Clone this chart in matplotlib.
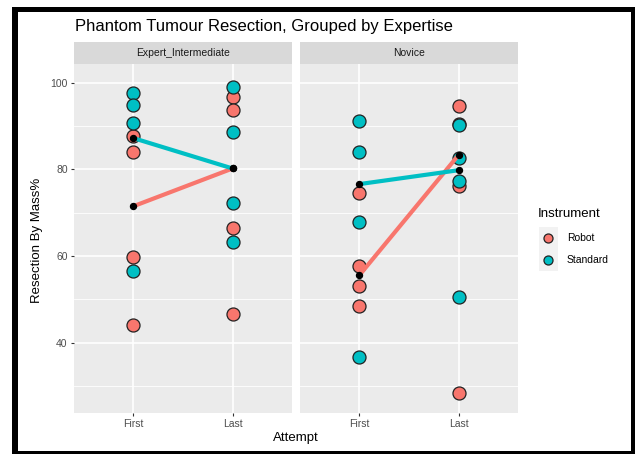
import matplotlib
matplotlib.use("Agg")
import matplotlib.pyplot as plt
from matplotlib.patches import Rectangle
from matplotlib.lines import Line2D

plt.rcParams['font.family'] = ['Liberation Sans', 'DejaVu Sans']

facets = ["Expert_Intermediate", "Novice"]
attempts = ["First", "Last"]
instruments = ["Robot", "Standard"]
colors = {"Robot": "#F8766D", "Standard": "#00BFC4"}

# Individual observations: values[facet][instrument][attempt]
values = {
    "Expert_Intermediate": {
        "Robot": {"First": [87.8, 84.1, 59.7, 44.2], "Last": [96.8, 93.8, 66.4, 46.6]},
        "Standard": {"First": [97.6, 94.9, 90.7, 56.6], "Last": [99.0, 88.5, 72.2, 63.3]},
    },
    "Novice": {
        "Robot": {"First": [74.5, 57.8, 53.2, 48.5], "Last": [94.5, 90.5, 76.1, 28.5]},
        "Standard": {"First": [91.1, 84.1, 67.9, 36.8], "Last": [90.2, 82.6, 77.2, 50.6]},
    },
}
# Summary (median) values shown as black dots joined by lines
summary = {
    "Expert_Intermediate": {"Robot": [71.5, 80.2], "Standard": [87.2, 80.2]},
    "Novice": {"Robot": [55.6, 83.3], "Standard": [76.6, 79.8]},
}

W, H = 635, 454
fig = plt.figure(figsize=(W / 100, H / 100), dpi=100)

def fr(x0, y0, x1, y1):
    return [x0 / W, 1 - y1 / H, (x1 - x0) / W, (y1 - y0) / H]

panel_x = [(74, 292), (300, 518)]
ptop, pbot = 64, 413
stop = 42

ylo, yhi = 23.8, 104.3
axes = []
for i, facet in enumerate(facets):
    x0, x1 = panel_x[i]
    ax = fig.add_axes(fr(x0, ptop, x1, pbot))
    ax.set_facecolor("#EBEBEB")
    for s in ax.spines.values():
        s.set_visible(False)
    ax.set_xlim(0.4, 2.6)
    ax.set_ylim(ylo, yhi)
    for y in [30, 50, 70, 90]:
        ax.axhline(y, color="white", lw=0.6, zorder=0)
    for y in [40, 60, 80, 100]:
        ax.axhline(y, color="white", lw=1.2, zorder=0)
    for x in [1, 2]:
        ax.axvline(x, color="white", lw=1.2, zorder=0)
    ax.set_xticks([1, 2])
    ax.set_xticklabels(attempts)
    ax.set_yticks([40, 60, 80, 100])
    ax.tick_params(axis="both", colors="#333333", labelcolor="#4D4D4D", labelsize=7.5,
                   length=2.5, width=0.8, pad=2)
    if i == 0:
        ax.set_yticklabels(["40", "60", "80", "100"])
    else:
        ax.tick_params(axis="y", left=False, labelleft=False)
    for inst in instruments:
        for j, att in enumerate(attempts):
            ys = values[facet][inst][att]
            ax.scatter([j + 1] * len(ys), ys, s=88, facecolor=colors[inst],
                       edgecolor="#222222", linewidths=0.9, zorder=3)
    for inst in instruments:
        ax.plot([1, 2], summary[facet][inst], color=colors[inst], lw=3.0,
                solid_capstyle="butt", zorder=4)
        ax.plot([1, 2], summary[facet][inst], "o", color="black", ms=4.3, zorder=5)
    # strip
    sax = fig.add_axes(fr(x0, stop, x1, ptop))
    sax.set_facecolor("#D9D9D9")
    sax.set_xticks([]); sax.set_yticks([])
    for s in sax.spines.values():
        s.set_visible(False)
    sax.text(0.5, 0.5, facet, ha="center", va="center", fontsize=7.5, color="#1A1A1A",
             transform=sax.transAxes)
    axes.append(ax)

fig.text(75 / W, 1 - 26 / H, "Phantom Tumour Resection, Grouped by Expertise",
         fontsize=12, ha="left", va="center", color="black")
fig.text(37 / W, 1 - 240 / H, "Resection By Mass%", rotation=90, fontsize=9.5,
         ha="center", va="center")
fig.text(296 / W, 1 - 438 / H, "Attempt", fontsize=9.5, ha="center", va="center")

# legend (drawn manually, ggplot-style keys)
fig.text(538 / W, 1 - 214 / H, "Instrument", fontsize=9.5, ha="left", va="center")
key_y = [238, 260]
for k, inst in enumerate(instruments):
    cy = key_y[k]
    fig.add_artist(Rectangle((539 / W, 1 - (cy + 11) / H), 19 / W, 22 / H,
                             transform=fig.transFigure, facecolor="#F2F2F2",
                             edgecolor="none"))
    fig.add_artist(Line2D([548 / W], [1 - cy / H], marker="o", ls="", ms=6.5,
                          markerfacecolor=colors[inst], markeredgecolor="#222222",
                          markeredgewidth=0.9, transform=fig.transFigure))
    fig.text(567 / W, 1 - cy / H, inst, fontsize=7.5, ha="left", va="center")

# black frame
for (x0, y0, x1, y1) in [(12, 7, 18, 454), (12, 7, 635, 12), (631, 7, 635, 454), (12, 451, 635, 454)]:
    fig.add_artist(Rectangle((x0 / W, 1 - y1 / H), (x1 - x0) / W, (y1 - y0) / H,
                             transform=fig.transFigure, facecolor="black", edgecolor="none"))

fig.savefig("out.png", dpi=100, facecolor="white")
